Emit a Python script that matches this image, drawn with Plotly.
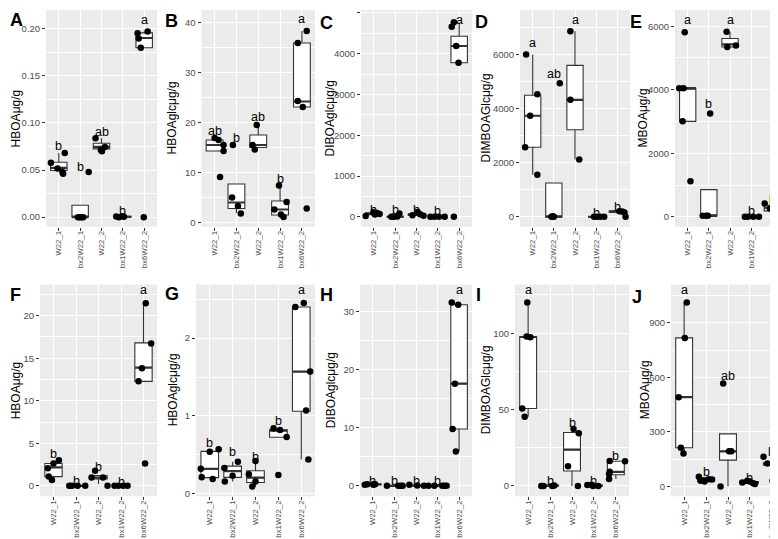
import plotly.graph_objects as go

W, H = 778, 539

categories = ["W22_1", "bx2W22_1", "W22_2", "bx1W22_2", "bx6W22_2"]
panel_tags = ["A", "B", "C", "D", "E", "F", "G", "H", "I", "J"]
y_titles = ["HBOAμg/g", "HBOAglcμg/g", "DIBOAglcμg/g", "DIMBOAGlcμg/g", "MBOAμg/g",
            "HBOAμg/g", "HBOAglcμg/g", "DIBOAglcμg/g", "DIMBOAGlcμg/g", "MBOAμg/g"]

# ---------------- Panel A ----------------
A_values = [[0.0576, 0.068, 0.0516, 0.048, 0.046], [0, 0, 0, 0, 0.048],
            [0.0837, 0.0745, 0.070, 0.0713], [0.0007, 0, 0.001, 0.0004],
            [0.1951, 0.1968, 0.1895, 0.1796, 0.0]]
A_jitter = [[-0.37, 0.28, -0.06, 0.17, 0.2], [-0.1, -0.02, 0.06, 0.14, 0.4],
            [-0.28, 0.16, 0.02, -0.03], [-0.31, -0.19, 0, 0.05],
            [-0.31, 0.16, -0.26, -0.16, -0.02]]
A_q1 = [0.0495, 0, 0.0724, 0, 0.1796]
A_med = [0.0523, 0, 0.0745, 0.0004, 0.190]
A_q3 = [0.0583, 0.0126, 0.0783, 0.001, 0.1954]
A_lo = [0.0495, 0, 0.0724, 0, 0.1796]
A_hi = [0.068, 0.0126, 0.0837, 0.001, 0.1968]
A_letters = ["b", "b", "ab", "b", "a"]
A_letter_y = [0.075, 0.053, 0.0906, 0.006, 0.209]

# ---------------- Panel B ----------------
B_values = [[16.9, 16.5, 15.5, 14.3, 9.1], [15.5, 5.0, 3.3, 1.8], [19.5, 15.5, 14.6],
            [7.4, 4.1, 2.6, 1.6, 1.1], [35.9, 38.3, 24.3, 23.1, 2.8]]
B_jitter = [[0, 0.18, 0.41, 0.41, 0.25], [-0.16, -0.2, 0.07, 0.2], [-0.07, -0.26, -0.16],
            [-0.05, 0.3, -0.26, 0.04, 0.16], [-0.19, 0.22, -0.19, 0.04, 0.22]]
B_q1 = [14.3, 2.8, 15.0, 1.5, 23.1]
B_med = [15.5, 4.0, 15.5, 2.6, 24.2]
B_q3 = [16.5, 7.7, 17.5, 4.3, 35.9]
B_lo = [14.3, 1.9, 15.0, 1.5, 23.1]
B_hi = [16.5, 7.7, 19.5, 7.4, 38.3]
B_letters = ["ab", "b", "ab", "b", "a"]
B_letter_y = [18.3, 16.9, 21.1, 8.6, 40.7]

# ---------------- Panel C ----------------
C_values = [[20, 115, 95, 70, 55], [0, 0, 5, 80], [40, 120, 65, 25], [0, 0, 0, 0],
            [4770, 4660, 4190, 3780, 0]]
C_jitter = [[-0.38, -0.02, 0.15, 0.27, 0.05], [-0.18, -0.05, 0.1, 0.2], [-0.19, 0.05, 0.17, 0.33],
            [-0.35, -0.16, 0.05, 0.32], [-0.25, -0.35, -0.14, -0.03, -0.25]]
C_q1 = [55, 0, 35, 0, 3780]
C_med = [70, 0, 55, 0, 4190]
C_q3 = [100, 10, 75, 0, 4430]
C_lo = [20, 0, 25, 0, 3780]
C_hi = [115, 80, 120, 0, 4770]
C_letters = ["b", "b", "b", "b", "a"]
C_letter_y = [163, 163, 163, 146, 4837]

# ---------------- Panel D ----------------
D_values = [[6000, 4531, 3735, 2571, 1555], [0, 0, 20, 4935], [6857, 4322, 2118], [0, 0, 0, 0],
            [210, 200, 160, 0]]
D_jitter = [[-0.31, 0.22, -0.12, -0.36, 0.22], [-0.11, 0, -0.05, 0.28], [-0.22, -0.22, 0.2],
            [-0.1, 0.03, 0.19, 0.38], [0.1, 0.23, 0.34, 0.39]]
D_q1 = [2571, 0, 3220, 0, 160]
D_med = [3735, 0, 4322, 0, 200]
D_q3 = [4494, 1250, 5596, 0, 210]
D_lo = [1555, 0, 2118, 0, 160]
D_hi = [6000, 1250, 6857, 0, 210]
D_letters = ["a", "ab", "a", "b", "b"]
D_letter_y = [6429, 5265, 7261, 147, 367]

# ---------------- Panel E ----------------
E_values = [[5812, 4049, 4049, 3005, 1117], [31, 31, 31, 3256], [5823, 5343, 5395], [0, 0, 0, 0],
            [417, 261, 209, 31]]
E_jitter = [[-0.14, -0.4, -0.2, -0.24, 0.13], [-0.29, -0.13, -0.05, 0.06], [-0.16, -0.13, 0.28],
            [-0.3, -0.16, 0.1, 0.37], [-0.36, -0.11, 0.31, 0.34]]
E_q1 = [3005, 31, 5343, 0, 188]
E_med = [4049, 31, 5426, 0, 282]
E_q3 = [4049, 856, 5614, 0, 365]
E_lo = [3005, 31, 5343, 0, 100]
E_hi = [4049, 856, 5823, 0, 365]
E_letters = ["a", "b", "a", "b", "b"]
E_letter_y = [6188, 3548, 6188, 188, 543]

# ---------------- Panel F ----------------
F_values = [[2.05, 2.63, 3.01, 1.08, 0.69], [0, 0, 0, 0], [1.78, 0.97, 0.97, 0], [0, 0, 0, 0],
            [21.47, 16.72, 13.82, 12.28, 2.63]]
F_jitter = [[-0.25, 0, 0.24, -0.21, -0.07], [-0.3, -0.18, 0.07, 0.41], [-0.15, -0.31, 0.2, 0.4],
            [-0.29, -0.12, 0.1, 0.29], [0.1, 0.34, -0.07, -0.22, 0.07]]
F_q1 = [1.08, 0, 0.81, 0, 12.28]
F_med = [2.16, 0, 0.97, 0, 13.9]
F_q3 = [2.63, 0, 1.2, 0, 16.8]
F_lo = [1.08, 0, 0.2, 0, 12.28]
F_hi = [2.63, 0, 1.2, 0, 21.47]
F_letters = ["b", "b", "b", "b", "a"]
F_letter_y = [3.7, 0.58, 2.16, 0.5, 23.0]

# ---------------- Panel G ----------------
G_values = [[0.32, 0.21, 0.54, 0.57, 0.19], [0.33, 0.156, 0.23, 0.41], [0.25, 0.42, 0.156, 0.093],
            [0.84, 0.82, 0.73, 0.24], [2.40, 2.45, 1.57, 1.07, 0.44]]
G_jitter = [[-0.39, -0.35, 0, 0.39, 0.13], [-0.36, -0.34, 0, 0.23], [-0.29, 0, 0, -0.14],
            [-0.21, 0.07, 0.36, 0], [-0.26, 0.11, 0.39, 0.21, 0.31]]
G_q1 = [0.207, 0.21, 0.143, 0.726, 1.06]
G_med = [0.32, 0.29, 0.207, 0.81, 1.57]
G_q3 = [0.544, 0.354, 0.295, 0.823, 2.40]
G_lo = [0.207, 0.156, 0.093, 0.726, 0.44]
G_hi = [0.544, 0.41, 0.42, 0.823, 2.40]
G_letters = ["b", "b", "b", "b", "a"]
G_letter_y = [0.65, 0.53, 0.47, 0.93, 2.62]

# ---------------- Panel H ----------------
H_values = [[0.2, 0.25, 0.2, 0.3, 0.28], [0, 0, 0, 0], [0.17, 0.05, 0], [0, 0, 0, 0, 0],
            [31.6, 31.2, 17.6, 9.8, 5.9]]
H_jitter = [[-0.38, -0.26, 0.02, 0.05, 0.1], [-0.35, 0.18, 0.38, 0.3], [-0.31, 0.06, 0.37],
            [-0.42, -0.15, 0.22, 0.33, 0.42], [-0.34, -0.04, -0.19, -0.3, -0.15]]
H_q1 = [0.2, 0, 0, 0, 9.8]
H_med = [0.25, 0, 0.05, 0, 17.6]
H_q3 = [0.3, 0, 0.1, 0, 31.2]
H_lo = [0.2, 0, 0, 0, 5.9]
H_hi = [0.3, 0, 0.17, 0, 31.2]
H_letters = ["b", "b", "b", "b", "a"]
H_letter_y = [0.9, 0.8, 0.8, 0.8, 33.7]

# ---------------- Panel I ----------------
I_values = [[120, 97.8, 97.4, 50.7, 45.2], [0, 0, 0, 0.3], [37.2, 34.4, 12.9, 0], [0.5, 0.7, 0, 0],
            [16.3, 9.3, 7.8, 4.5, 16.1]]
I_jitter = [[-0.04, -0.07, 0.1, -0.27, -0.16], [-0.4, -0.3, 0.1, 0.19], [0.07, 0.31, -0.18, 0.27],
            [-0.3, -0.1, -0.04, 0.2], [-0.28, -0.28, -0.31, -0.31, 0.42]]
I_q1 = [50.7, 0, 9.7, 0, 7.3]
I_med = [97.5, 0, 23.7, 0, 9.2]
I_q3 = [97.8, 0.5, 35, 0.5, 16.1]
I_lo = [45.2, 0, 0, 0, 4.5]
I_hi = [120, 0.5, 35, 0.5, 16.1]
I_letters = ["a", "b", "b", "b", "b"]
I_letter_y = [128, 3.2, 41, 3.2, 19.4]

# ---------------- Panel J ----------------
J_values = [[1012, 817, 491, 213, 181], [54, 31, 27, 40, 38], [566, 193, 193, 0],
            [22, 31, 27, 18, 13], [163, 126, 121, 130, 31]]
J_jitter = [[0.12, 0.03, -0.25, -0.15, -0.03], [-0.33, -0.25, -0.07, 0.12, 0.27], [-0.22, 0.05, 0.15, -0.34],
            [-0.35, -0.12, 0, 0.15, 0.23], [-0.38, -0.2, 0.23, 0.34, 0.03]]
J_q1 = [213, 27, 145, 18, 117]
J_med = [491, 40, 193, 22, 126]
J_q3 = [817, 49, 289, 27, 130]
J_lo = [181, 27, 0, 18, 117]
J_hi = [1012, 54, 289, 27, 130]
J_letters = ["a", "b", "ab", "b", "b"]
J_letter_y = [1080, 78, 609, 49, 190]

# axis ticks per panel
y_ticks = [[0, 0.05, 0.10, 0.15, 0.20], [0, 10, 20, 30, 40], [0, 1000, 2000, 3000, 4000, 5000],
           [0, 2000, 4000, 6000], [0, 2000, 4000, 6000], [0, 5, 10, 15, 20], [0, 1, 2],
           [0, 10, 20, 30], [0, 50, 100], [0, 300, 600, 900]]
y_tick_text = [["0.00", "0.05", "0.10", "0.15", "0.20"]] + [[str(v) for v in t] for t in y_ticks[1:]]
y_ranges = [[-0.0102, 0.2197], [-0.86, 42.5], [-244, 5073], [-367, 7642], [-313, 6510],
            [-1.23, 23.67], [-0.033, 2.69], [-1.8, 34.7], [-6.8, 131.9], [-54, 1111]]

# layout geometry (pixels): plot area boxes, tag & title positions
plot_boxes = [(38, 2, 149, 220), (193.5, 2, 307, 220), (353, 2, 464, 220), (512, 2, 622, 220),
              (667, 2, 777, 220), (32, 278, 149, 491), (188, 278, 307, 491), (352, 278, 464, 491),
              (507, 278, 621, 491), (663, 278, 777, 491)]
tag_pos = [(0, 0), (155, 1), (310, 3), (465, 2), (620, 2), (0, 277), (155, 276), (310, 277),
           (466, 277), (622, 279)]
title_x = [8, 164, 322, 478, 635, 8, 165, 323, 478, 637]

panels = [
    (A_values, A_jitter, A_q1, A_med, A_q3, A_lo, A_hi, A_letters, A_letter_y),
    (B_values, B_jitter, B_q1, B_med, B_q3, B_lo, B_hi, B_letters, B_letter_y),
    (C_values, C_jitter, C_q1, C_med, C_q3, C_lo, C_hi, C_letters, C_letter_y),
    (D_values, D_jitter, D_q1, D_med, D_q3, D_lo, D_hi, D_letters, D_letter_y),
    (E_values, E_jitter, E_q1, E_med, E_q3, E_lo, E_hi, E_letters, E_letter_y),
    (F_values, F_jitter, F_q1, F_med, F_q3, F_lo, F_hi, F_letters, F_letter_y),
    (G_values, G_jitter, G_q1, G_med, G_q3, G_lo, G_hi, G_letters, G_letter_y),
    (H_values, H_jitter, H_q1, H_med, H_q3, H_lo, H_hi, H_letters, H_letter_y),
    (I_values, I_jitter, I_q1, I_med, I_q3, I_lo, I_hi, I_letters, I_letter_y),
    (J_values, J_jitter, J_q1, J_med, J_q3, J_lo, J_hi, J_letters, J_letter_y),
]

BOX_W = 0.77
FONT = "Liberation Sans, Arial, sans-serif"
fig = go.Figure()
annotations = []
layout_axes = {}
pos = list(range(len(categories)))

for k, (vals, jit, q1, med, q3, lo, hi, letters, letter_y) in enumerate(panels):
    n = k + 1
    xa, ya = f"x{n}", f"y{n}"
    fig.add_trace(go.Box(
        x=pos, q1=q1, median=med, q3=q3, lowerfence=lo, upperfence=hi,
        width=BOX_W, whiskerwidth=0, boxpoints=False, fillcolor="white",
        line=dict(color="#333333", width=1.1), xaxis=xa, yaxis=ya,
        showlegend=False, hoverinfo="skip"))
    # thicker median lines (ggplot style)
    mx, my = [], []
    for i, m in enumerate(med):
        mx += [i - BOX_W / 2, i + BOX_W / 2, None]
        my += [m, m, None]
    fig.add_trace(go.Scatter(x=mx, y=my, mode="lines", line=dict(color="#333333", width=2.2),
                             xaxis=xa, yaxis=ya, showlegend=False, hoverinfo="skip"))
    px, py = [], []
    for i, (vs, js) in enumerate(zip(vals, jit)):
        px += [i + j for j in js]
        py += vs
    fig.add_trace(go.Scatter(x=px, y=py, mode="markers",
                             marker=dict(color="black", size=6.5, line=dict(width=0)),
                             xaxis=xa, yaxis=ya, showlegend=False, hoverinfo="skip"))
    for i, (lt, ly) in enumerate(zip(letters, letter_y)):
        annotations.append(dict(x=i, y=ly, xref=xa, yref=ya, text=lt, showarrow=False,
                                font=dict(size=12.5, color="black", family=FONT),
                                xanchor="center", yanchor="middle"))
    x0, y0, x1, y1 = plot_boxes[k]
    axis_common = dict(showline=False, zeroline=False, ticks="outside", ticklen=3,
                       tickcolor="#333333", tickwidth=1,
                       gridcolor="white", gridwidth=1.1)
    layout_axes[f"xaxis{n}"] = dict(axis_common, domain=[x0 / W, x1 / W], anchor=ya,
                                    range=[-0.6, len(categories) - 0.4], tickvals=pos,
                                    ticktext=categories, tickangle=-90, showgrid=True,
                                    ticklabelstandoff=-3,
                                    tickfont=dict(size=7.8, color="#4D4D4D", family=FONT),
                                    fixedrange=True)
    step = y_ticks[k][1] - y_ticks[k][0]
    layout_axes[f"yaxis{n}"] = dict(axis_common, domain=[1 - y1 / H, 1 - y0 / H], anchor=xa,
                                    range=y_ranges[k], tickvals=y_ticks[k],
                                    ticktext=y_tick_text[k], showgrid=True,
                                    tickfont=dict(size=9.5, color="#4D4D4D", family=FONT),
                                    minor=dict(tickvals=[v + step / 2 for v in y_ticks[k]] +
                                               [y_ticks[k][0] - step / 2],
                                               showgrid=True, gridcolor="white", gridwidth=0.55,
                                               ticks=""),
                                    fixedrange=True)
    # panel tag
    tx, ty = tag_pos[k]
    annotations.append(dict(x=tx / W, y=1 - ty / H, xref="paper", yref="paper",
                            text=f"<b>{panel_tags[k]}</b>", showarrow=False,
                            font=dict(size=18, color="black", family=FONT),
                            xanchor="left", yanchor="top"))
    # y title
    annotations.append(dict(x=title_x[k] / W, y=1 - ((y0 + y1) / 2) / H, xref="paper",
                            yref="paper", text=y_titles[k], showarrow=False, textangle=-90,
                            font=dict(size=12, color="black", family=FONT),
                            xanchor="center", yanchor="middle"))
    # plot background
    fig.add_shape(type="rect", xref="paper", yref="paper", x0=x0 / W, x1=x1 / W,
                  y0=1 - y1 / H, y1=1 - y0 / H, fillcolor="#EBEBEB", line=dict(width=0),
                  layer="below")

fig.update_layout(width=W, height=H, margin=dict(l=0, r=0, t=0, b=0),
                  paper_bgcolor="white", plot_bgcolor="rgba(0,0,0,0)",
                  annotations=annotations, showlegend=False,
                  font=dict(family=FONT), **layout_axes)

fig.write_html("out.html")
